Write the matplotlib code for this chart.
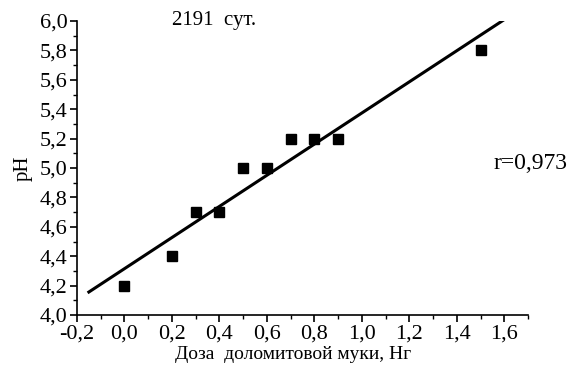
import numpy as np
import matplotlib
matplotlib.use('Agg')
import matplotlib.pyplot as plt
from matplotlib.ticker import MultipleLocator, FuncFormatter

# dose of dolomite flour vs soil pH
dose = [0.0, 0.2, 0.3, 0.4, 0.5, 0.6, 0.7, 0.8, 0.9, 1.5]
ph = [4.2, 4.4, 4.7, 4.7, 5.0, 5.0, 5.2, 5.2, 5.2, 5.8]

title_text = '2191  сут.'
r_text = 'r=0,973'
xlabel_text = 'Доза  доломитовой муки, Нг'
ylabel_text = 'pH'

# range of the fitted line
fit_range = [-0.15, 1.6]

plt.rcParams['font.family'] = ['Liberation Serif', 'DejaVu Serif']
plt.rcParams['font.size'] = 14

fig = plt.figure(figsize=(5.82, 3.65), dpi=100)
ax = fig.add_axes([77 / 582, 1 - 315 / 365, 451 / 582, 294 / 365])

x = np.array(dose)
y = np.array(ph)
k, b = np.polyfit(x, y, 1)
xf = np.array(fit_range)
ax.plot(xf, k * xf + b, 'k-', lw=2.2)
ax.plot(x, y, 'ks', ms=7)

ax.set_xlim(-0.2, 1.7)
ax.set_ylim(4.0, 6.0)
ax.spines['top'].set_visible(False)
ax.spines['right'].set_visible(False)
for s in ['left', 'bottom']:
    ax.spines[s].set_linewidth(1.2)

ax.xaxis.set_major_locator(MultipleLocator(0.2))
ax.xaxis.set_minor_locator(MultipleLocator(0.1))
ax.yaxis.set_major_locator(MultipleLocator(0.2))
ax.yaxis.set_minor_locator(MultipleLocator(0.1))
comma = FuncFormatter(lambda v, p: ('%.1f' % v).replace('.', ','))
ax.xaxis.set_major_formatter(comma)
ax.yaxis.set_major_formatter(comma)
ax.tick_params(which='major', length=5, width=1.2, pad=2, labelsize=16)
ax.tick_params(which='minor', length=3, width=1.0)

ax.set_xlabel(xlabel_text, fontsize=14)
ax.xaxis.set_label_coords(0.48, -0.105)
ax.set_ylabel(ylabel_text, fontsize=15)
ax.yaxis.set_label_coords(-0.098, 0.5)

fig.text(172 / 582, 1 - 20 / 365, title_text, ha='left', va='center', fontsize=15)
fig.text(493 / 582, 1 - 164 / 365, r_text, ha='left', va='center', fontsize=17)

fig.savefig('out.png', dpi=100)
